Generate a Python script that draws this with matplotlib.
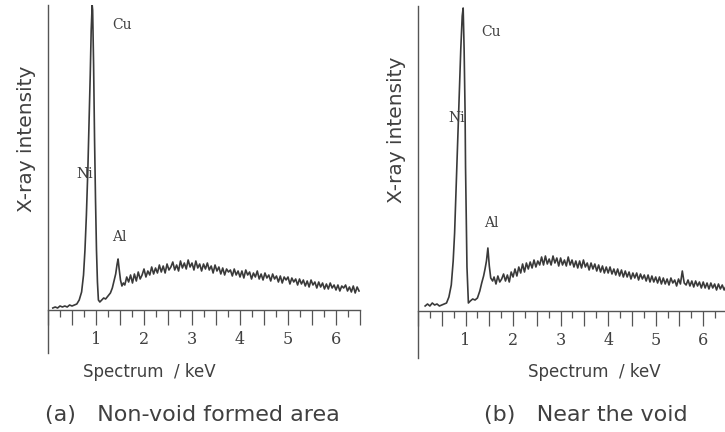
import matplotlib
matplotlib.use('Agg')
import matplotlib.pyplot as plt
import numpy as np
from matplotlib.ticker import MultipleLocator, FuncFormatter

# energies (keV) and intensities, peak region
peak_e_a = [0.10, 0.15, 0.20, 0.25, 0.30, 0.35, 0.40, 0.45, 0.50, 0.55, 0.60, 0.65, 0.70,
            0.74, 0.77, 0.80, 0.83, 0.86, 0.88, 0.90, 0.92, 0.93, 0.95, 0.97, 0.99, 1.01,
            1.03, 1.05, 1.08, 1.12, 1.16, 1.20, 1.25, 1.30, 1.34, 1.38, 1.41, 1.44, 1.46,
            1.48, 1.51, 1.54, 1.57]
peak_i_a = [2, 3, 2, 4, 3, 4, 3, 5, 4, 5, 6, 10, 18,
            35, 60, 95, 140, 195, 235, 280, 305, 300, 245, 170, 110, 60,
            28, 10, 8, 10, 12, 11, 14, 17, 22, 30, 36, 46, 51,
            42, 30, 24, 27]

peak_e_b = [0.15, 0.20, 0.25, 0.30, 0.35, 0.40, 0.45, 0.50, 0.55, 0.60, 0.65, 0.70, 0.74,
            0.77, 0.80, 0.84, 0.87, 0.90, 0.93, 0.95, 0.97, 0.99, 1.00, 1.03, 1.06, 1.10,
            1.15, 1.20, 1.25, 1.30, 1.34, 1.38, 1.41, 1.44, 1.47, 1.50, 1.53, 1.57]
peak_i_b = [5, 7, 5, 8, 6, 7, 5, 6, 7, 8, 14, 26, 50,
            78, 120, 178, 220, 262, 295, 303, 262, 200, 144, 44, 8, 10,
            12, 11, 13, 20, 28, 35, 42, 50, 63, 45, 33, 30]

# background channels, 1.60 .. 6.48 keV every 0.04 keV
bg_e = np.round(np.arange(1.60, 6.481, 0.04), 2)

bg_i_a = [25, 33, 28, 35, 27, 36, 29, 38, 31, 35, 41, 33, 39, 35, 43,
          36, 42, 37, 45, 38, 44, 37, 46, 40, 43, 48, 40, 45, 39, 49,
          42, 47, 41, 50, 43, 47, 40, 49, 42, 46, 39, 46, 41, 47, 40,
          44, 37, 45, 39, 43, 36, 42, 35, 41, 38, 40, 34, 41, 35, 39,
          33, 39, 32, 40, 35, 38, 31, 37, 33, 39, 31, 36, 30, 37, 32,
          35, 29, 36, 31, 34, 28, 34, 27, 33, 30, 33, 26, 32, 28, 31,
          25, 31, 26, 30, 24, 29, 23, 30, 25, 28, 22, 28, 23, 27, 21,
          26, 21, 27, 22, 25, 20, 25, 19, 24, 22, 25, 19, 23, 18, 24,
          17, 23, 19]

bg_i_b = [34, 27, 35, 29, 32, 37, 30, 36, 29, 39, 34, 42, 35, 44, 38,
          47, 39, 48, 42, 49, 43, 51, 44, 50, 46, 54, 46, 55, 47, 52,
          46, 55, 48, 53, 45, 53, 46, 51, 45, 54, 46, 51, 44, 50, 43,
          50, 43, 51, 44, 48, 41, 48, 42, 47, 40, 46, 39, 45, 38, 44,
          38, 44, 37, 42, 36, 42, 35, 41, 34, 40, 34, 39, 32, 38, 33,
          38, 31, 37, 32, 36, 30, 36, 29, 35, 29, 34, 28, 34, 27, 33,
          27, 32, 26, 33, 28, 31, 25, 32, 27, 40, 28, 26, 31, 25, 30,
          24, 30, 25, 29, 23, 29, 23, 28, 22, 28, 23, 27, 21, 27, 22,
          26, 21, 25]

labels_a = [("Cu", 1.54, 285), ("Ni", 0.77, 136), ("Al", 1.48, 73)]
labels_b = [("Cu", 1.54, 279), ("Ni", 0.82, 193), ("Al", 1.54, 88)]

ink = '#3a3a3a'
txt = '#404040'

fig = plt.figure(figsize=(7.25, 4.32), dpi=100)

def panel(rect, ylo, e_peak, i_peak, i_bg, labels):
    ax = fig.add_axes(rect)
    e = np.concatenate([e_peak, bg_e])
    i = np.concatenate([i_peak, i_bg])
    ax.plot(e, i, color=ink, lw=1.2)
    ax.set_xlim(0, 6.5)
    ax.set_ylim(ylo, 305)
    ax.spines['top'].set_visible(False)
    ax.spines['right'].set_visible(False)
    ax.spines['bottom'].set_position(('data', 0))
    for s in ('left', 'bottom'):
        ax.spines[s].set_color('#555555')
        ax.spines[s].set_linewidth(1.0)
    ax.set_yticks([])
    ax.xaxis.set_major_locator(MultipleLocator(0.5))
    ax.xaxis.set_minor_locator(MultipleLocator(0.25))
    ax.xaxis.set_major_formatter(FuncFormatter(
        lambda v, p: '%d' % round(v) if abs(v - round(v)) < 1e-6 and v > 0.5 else ''))
    ax.tick_params(axis='x', which='major', direction='out', length=11, width=0.9,
                   color='#555555', pad=4, labelsize=11.5, labelcolor=txt)
    ax.tick_params(axis='x', which='minor', direction='out', length=5, width=0.9,
                   color='#555555')
    for lab in ax.get_xticklabels():
        lab.set_family('DejaVu Serif')
    for name, x, y in labels:
        ax.text(x, y, name, family='DejaVu Serif', fontsize=10, color=txt,
                ha='center', va='center')
    ax.patch.set_alpha(0)
    return ax

panel([48 / 725, 1 - 353 / 432, 312 / 725, 348 / 432], -43,
      peak_e_a, peak_i_a, bg_i_a, labels_a)
panel([418 / 725, 1 - 358 / 432, 309 / 725, 352 / 432], -47,
      peak_e_b, peak_i_b, bg_i_b, labels_b)

fig.text(27 / 725, 1 - 139 / 432, "X-ray intensity", rotation=90, fontsize=14.5,
         color=txt, ha='center', va='center')
fig.text(397 / 725, 1 - 130 / 432, "X-ray intensity", rotation=90, fontsize=14.5,
         color=txt, ha='center', va='center')

fig.text(149 / 725, 1 - 372 / 432, "Spectrum  / keV", fontsize=12, color=txt,
         ha='center', va='center')
fig.text(594 / 725, 1 - 372 / 432, "Spectrum  / keV", fontsize=12, color=txt,
         ha='center', va='center')

fig.text(192 / 725, 1 - 415 / 432, "(a)   Non-void formed area", fontsize=16,
         color=txt, ha='center', va='center')
fig.text(586 / 725, 1 - 415 / 432, "(b)   Near the void", fontsize=16,
         color=txt, ha='center', va='center')

fig.savefig('out.png', dpi=100)
